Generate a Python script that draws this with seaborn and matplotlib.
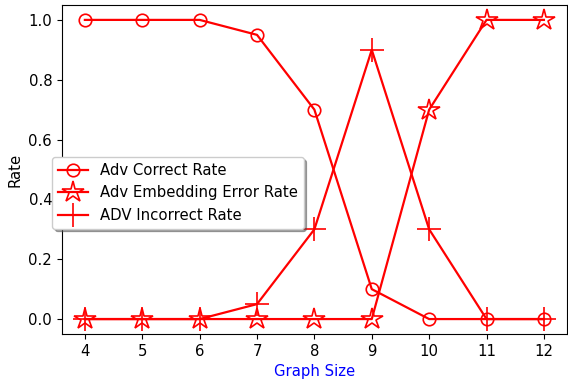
import matplotlib
matplotlib.use("Agg")
import matplotlib.pyplot as plt
import seaborn as sns
import pandas as pd

graph_size = [4, 5, 6, 7, 8, 9, 10, 11, 12]
adv_correct = [1.0, 1.0, 1.0, 0.95, 0.7, 0.1, 0.0, 0.0, 0.0]
adv_embedding_error = [0.0, 0.0, 0.0, 0.0, 0.0, 0.0, 0.7, 1.0, 1.0]
adv_incorrect = [0.0, 0.0, 0.0, 0.05, 0.3, 0.9, 0.3, 0.0, 0.0]

series = [
    ("Adv Correct Rate", adv_correct, "o", 9),
    ("Adv Embedding Error Rate", adv_embedding_error, "*", 16),
    ("ADV Incorrect Rate", adv_incorrect, "+", 17),
]

plt.rcParams["font.family"] = ["DejaVu Sans"]
plt.rcParams["font.size"] = 10.7
fig, ax = plt.subplots(figsize=(5.68, 3.8), dpi=100)
fig.subplots_adjust(left=0.109, right=0.998, top=0.987, bottom=0.121)

for label, values, marker, ms in series:
    df = pd.DataFrame({"size": graph_size, "rate": values})
    sns.lineplot(data=df, x="size", y="rate", ax=ax, color="red",
                 marker=marker, markersize=ms, markerfacecolor="none",
                 markeredgecolor="red", markeredgewidth=1.2,
                 linewidth=1.6, label=label)

ax.set_xticks(graph_size)
ax.tick_params(labelsize=10.7)
ax.set_xlabel("Graph Size", color="blue", fontsize=10.7)
ax.set_ylabel("Rate", fontsize=10.7)
ax.legend(loc="upper left", bbox_to_anchor=(0.092, 0.587),
          bbox_transform=fig.transFigure, borderaxespad=0, shadow=True,
          framealpha=1, fontsize=10.7)

fig.savefig("out.png", dpi=100)
